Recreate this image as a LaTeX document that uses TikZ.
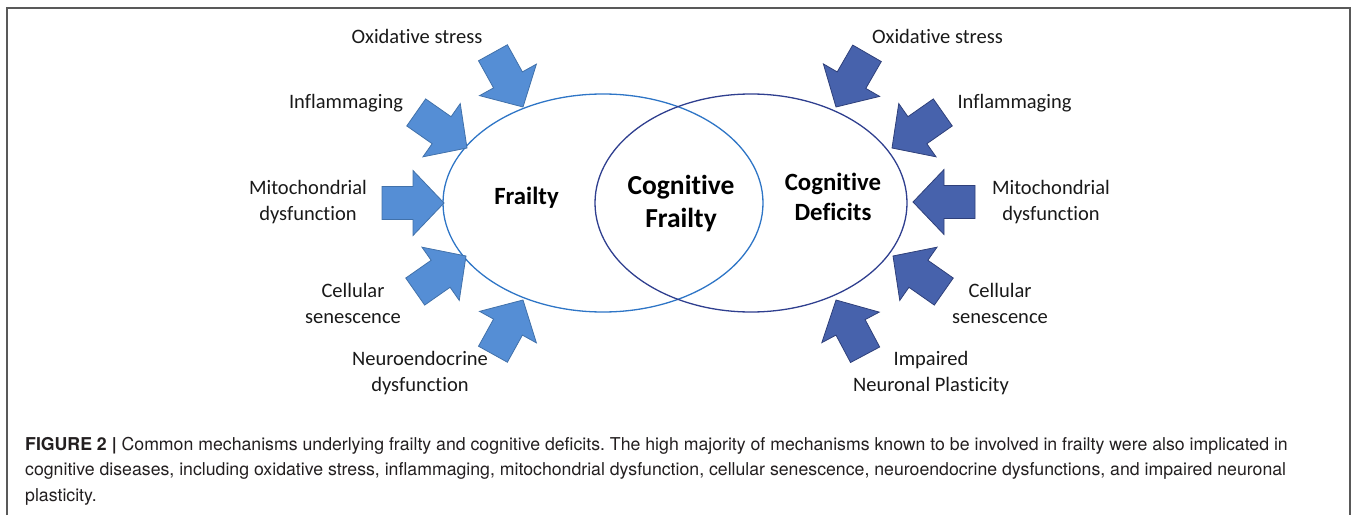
\documentclass[tikz,border=0pt]{standalone}
\usepackage{fontspec}
\setmainfont[Ligatures=NoCommon]{Carlito}
\newfontfamily\capfont{TeX Gyre Heros}
\usetikzlibrary{shapes.geometric}
\frenchspacing

\definecolor{frailblue}{RGB}{85,142,213}
\definecolor{frailedge}{RGB}{65,113,170}
\definecolor{deficitblue}{RGB}{71,98,172}
\definecolor{deficitedge}{RGB}{47,64,122}
\definecolor{frailring}{RGB}{46,117,198}
\definecolor{deficitring}{RGB}{47,63,143}
\definecolor{captiongray}{RGB}{35,31,32}

\begin{document}
\begin{tikzpicture}[x=1pt, y=1pt,
         lab/.style = {align=center, inner sep=0pt, text=black!90,
                       font=\fontsize{20.5}{26}\selectfont},
         setlab/.style = {align=center, inner sep=0pt,
                          font=\bfseries\fontsize{24.8}{30}\selectfont},
         ring/.style = {ellipse, draw, line width=1.3pt, inner sep=0pt},
         frailarrow/.style = {fill=frailblue, draw=frailedge, line width=0.8pt},
         deficitarrow/.style = {fill=deficitblue, draw=deficitedge, line width=0.8pt},
         % block arrow, tip at the origin, pointing along +x
         push/.pic = {\path[pic actions] (0,0) -- (-31,32.5) -- (-31,16.5) -- (-62,16.5)
                       -- (-62,-16.5) -- (-31,-16.5) -- (-31,-32.5) -- cycle;},
         ]
\useasboundingbox (0,0) rectangle (1357,515);
\draw[black!65, line width=1.2pt] (7,0) -- (7,507) -- (1350,507) -- (1350,0);

% the two overlapping sets
\node[ring, draw=frailring, minimum width=320, minimum height=218] (frailset) at (603,312) {};
\node[ring, draw=deficitring, minimum width=312, minimum height=218] (deficitset) at (751,312) {};

\node[setlab] (frailty) at (526.5,317) {Frailty};
\node[setlab, font=\bfseries\fontsize{27.5}{33}\selectfont] (cogfrail) at (681,311.5) {Cognitive\\Frailty};
\node[setlab] (cogdef) at (833,318) {Cognitive\\Deficits};

% mechanisms acting on frailty
\foreach \x/\y/\a in {523/408/-61, 467/367/-35, 444/312/0, 466/259/35, 523/215/61}
  \pic[frailarrow, rotate=\a] at (\x,\y) {push};

\node[lab] (oxfrail) at (417,478.5) {Oxidative stress};
\node[lab] (inflfrail) at (346,411.5) {Inflammaging};
\node[lab] (mitofrail) at (308,312.5) {Mitochondrial\\dysfunction};
\node[lab] (cellfrail) at (353,212) {Cellular\\senescence};
\node[lab] (neurofrail) at (420,141.5) {Neuroendocrine\\dysfunction};

% mechanisms acting on cognitive deficits
\foreach \x/\y/\a in {836/408/-120, 892/367/-145, 913/313/180, 893/259/145, 836/215/118}
  \pic[deficitarrow, rotate=\a] at (\x,\y) {push};

\node[lab] (oxdef) at (937.5,478.5) {Oxidative stress};
\node[lab] (infldef) at (1014.5,411.5) {Inflammaging};
\node[lab] (mitodef) at (1051,312.5) {Mitochondrial\\dysfunction};
\node[lab] (celldef) at (1000,212) {Cellular\\senescence};
\node[lab] (plastdef) at (931,141.5) {Impaired\\Neuronal Plasticity};

% caption
\node[anchor=north west, align=left, inner sep=0pt, text=captiongray,
      font=\capfont\fontsize{17.7}{25.5}\selectfont] (caption) at (25,78)
  {{\bfseries FIGURE 2 |} Common mechanisms underlying frailty and cognitive deficits. The high majority of mechanisms known to be involved in frailty were also implicated in\\
   cognitive diseases, including oxidative stress, inflammaging, mitochondrial dysfunction, cellular senescence, neuroendocrine dysfunctions, and impaired neuronal\\
   plasticity.};
\end{tikzpicture}
\end{document}
